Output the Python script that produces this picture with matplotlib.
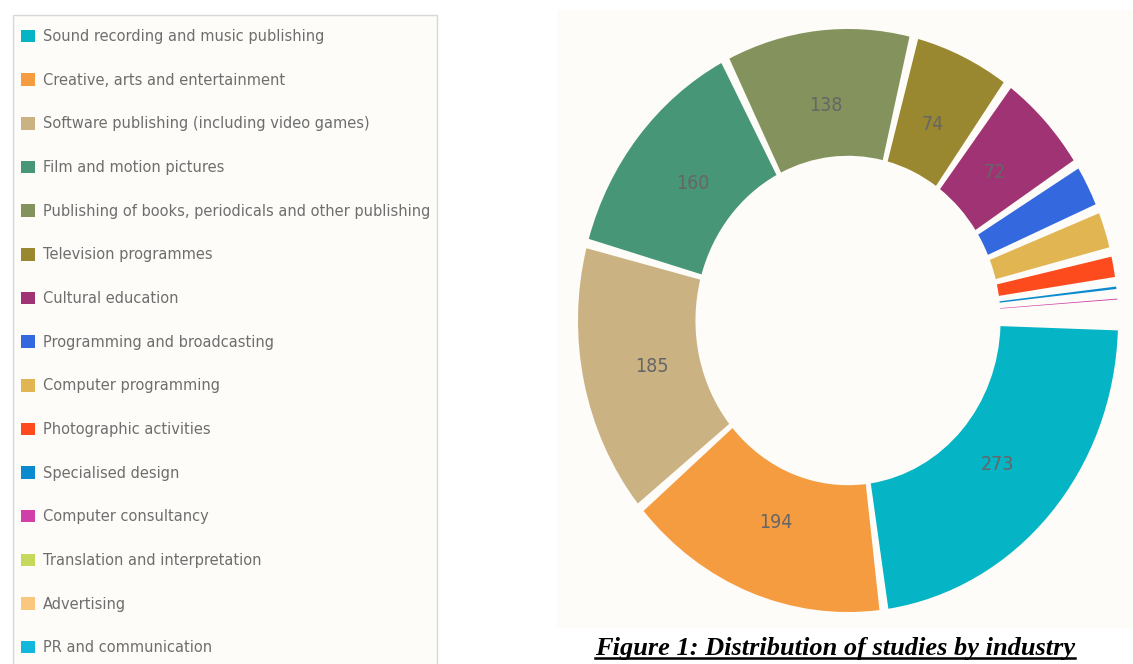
import numpy as np
import matplotlib
matplotlib.use("Agg")
import matplotlib.pyplot as plt
import matplotlib.patches as mpatches
from matplotlib.lines import Line2D
from matplotlib.transforms import IdentityTransform

# ------------------------------------------------------------
#  data
# ------------------------------------------------------------
industries = [
    "Sound recording and music publishing",
    "Creative, arts and entertainment",
    "Software publishing (including video games)",
    "Film and motion pictures",
    "Publishing of books, periodicals and other publishing",
    "Television programmes",
    "Cultural education",
    "Programming and broadcasting",
    "Computer programming",
    "Photographic activities",
    "Specialised design",
    "Computer consultancy",
    "Translation and interpretation",
    "Advertising",
    "PR and communication",
]
studies = [273, 194, 185, 160, 138, 74, 72, 33, 30, 20, 8, 7, 5, 5, 4]
colors = [
    "#05b4c5", "#f59c40", "#cbb283", "#489678", "#84935d",
    "#9a8830", "#a03373", "#3468de", "#e2b553", "#fd4b1e",
    "#0c8ad0", "#d040a8", "#c8d85c", "#fbc77e", "#14b7dc",
]
caption = "Figure 1: Distribution of studies by industry"

W, H = 1133, 664
PANEL = "#fdfcf8"
LABEL_GREY = "#666666"

fig = plt.figure(figsize=(W / 100, H / 100), dpi=100)
fig.patch.set_facecolor("white")

# cream chart panel and legend box
fig.add_artist(mpatches.Rectangle((557 / W, 1 - 628 / H), (W - 557) / W, 618 / H,
                                  transform=fig.transFigure, facecolor=PANEL,
                                  edgecolor="none", zorder=0))
fig.add_artist(mpatches.Rectangle((13 / W, -0.05), 424 / W, 1 - 15 / H + 0.05,
                                  transform=fig.transFigure, facecolor=PANEL,
                                  edgecolor="#d8d8d8", linewidth=1.0, zorder=0))

# ------------------------------------------------------------
#  donut
# ------------------------------------------------------------
ax = fig.add_axes([551 / W, 1 - 626.6 / H, 594 / W, 612.2 / H])
wedges, _ = ax.pie(studies, colors=colors, startangle=-1, counterclock=False,
                   radius=1.0,
                   wedgeprops=dict(width=0.435, linewidth=0),
                   shadow={"ox": 3.5, "oy": -3.5, "facecolor": "#8a8a8a",
                           "edgecolor": "none", "alpha": 0.45})
ax.set_aspect("auto")
ax.set_xlim(-1.1, 1.1)
ax.set_ylim(-1.05, 1.05)
ax.axis("off")

# angular gap between slices
pad = 0.95
for w in wedges:
    t1, t2 = w.theta1, w.theta2
    if t2 - t1 > 2 * pad:
        w.set_theta1(t1 + pad)
        w.set_theta2(t2 - pad)
    else:
        w.set_visible(False)
for p in ax.patches:
    if isinstance(p, mpatches.Shadow) and not p.patch.get_visible():
        p.set_visible(False)

# value labels on the larger slices
for w, v in zip(wedges, studies):
    if v < 50:
        continue
    mid = np.deg2rad((w.theta1 + w.theta2) / 2)
    ax.text(0.742 * np.cos(mid), 0.742 * np.sin(mid), str(v),
            ha="center", va="center", fontsize=14, color=LABEL_GREY,
            family="DejaVu Sans", stretch="condensed")

# ------------------------------------------------------------
#  legend
# ------------------------------------------------------------
handles = [mpatches.Patch(facecolor=c, edgecolor="none") for c in colors]
leg = fig.legend(handles, industries, loc="upper left",
                 bbox_to_anchor=(21 / W, 1 - 29 / H), frameon=False,
                 borderpad=0, borderaxespad=0, handlelength=0.95,
                 handleheight=0.95, handletextpad=0.55, labelspacing=1.965,
                 prop=dict(family="DejaVu Sans", size=10.5))
for t in leg.get_texts():
    t.set_color("#6e6e6e")

# ------------------------------------------------------------
#  caption (underlined)
# ------------------------------------------------------------
cap = fig.text(835 / W, 1 - 649 / H, caption, ha="center", va="center",
               family="Liberation Serif", fontweight="bold", fontstyle="italic",
               fontsize=19, color="black")
fig.canvas.draw()
bb = cap.get_window_extent()
fig.add_artist(Line2D([bb.x0, bb.x1], [bb.y0 + 2.5, bb.y0 + 2.5],
                      transform=IdentityTransform(), color="black", linewidth=1.8))

fig.savefig("out.png", dpi=100, facecolor=fig.get_facecolor())
